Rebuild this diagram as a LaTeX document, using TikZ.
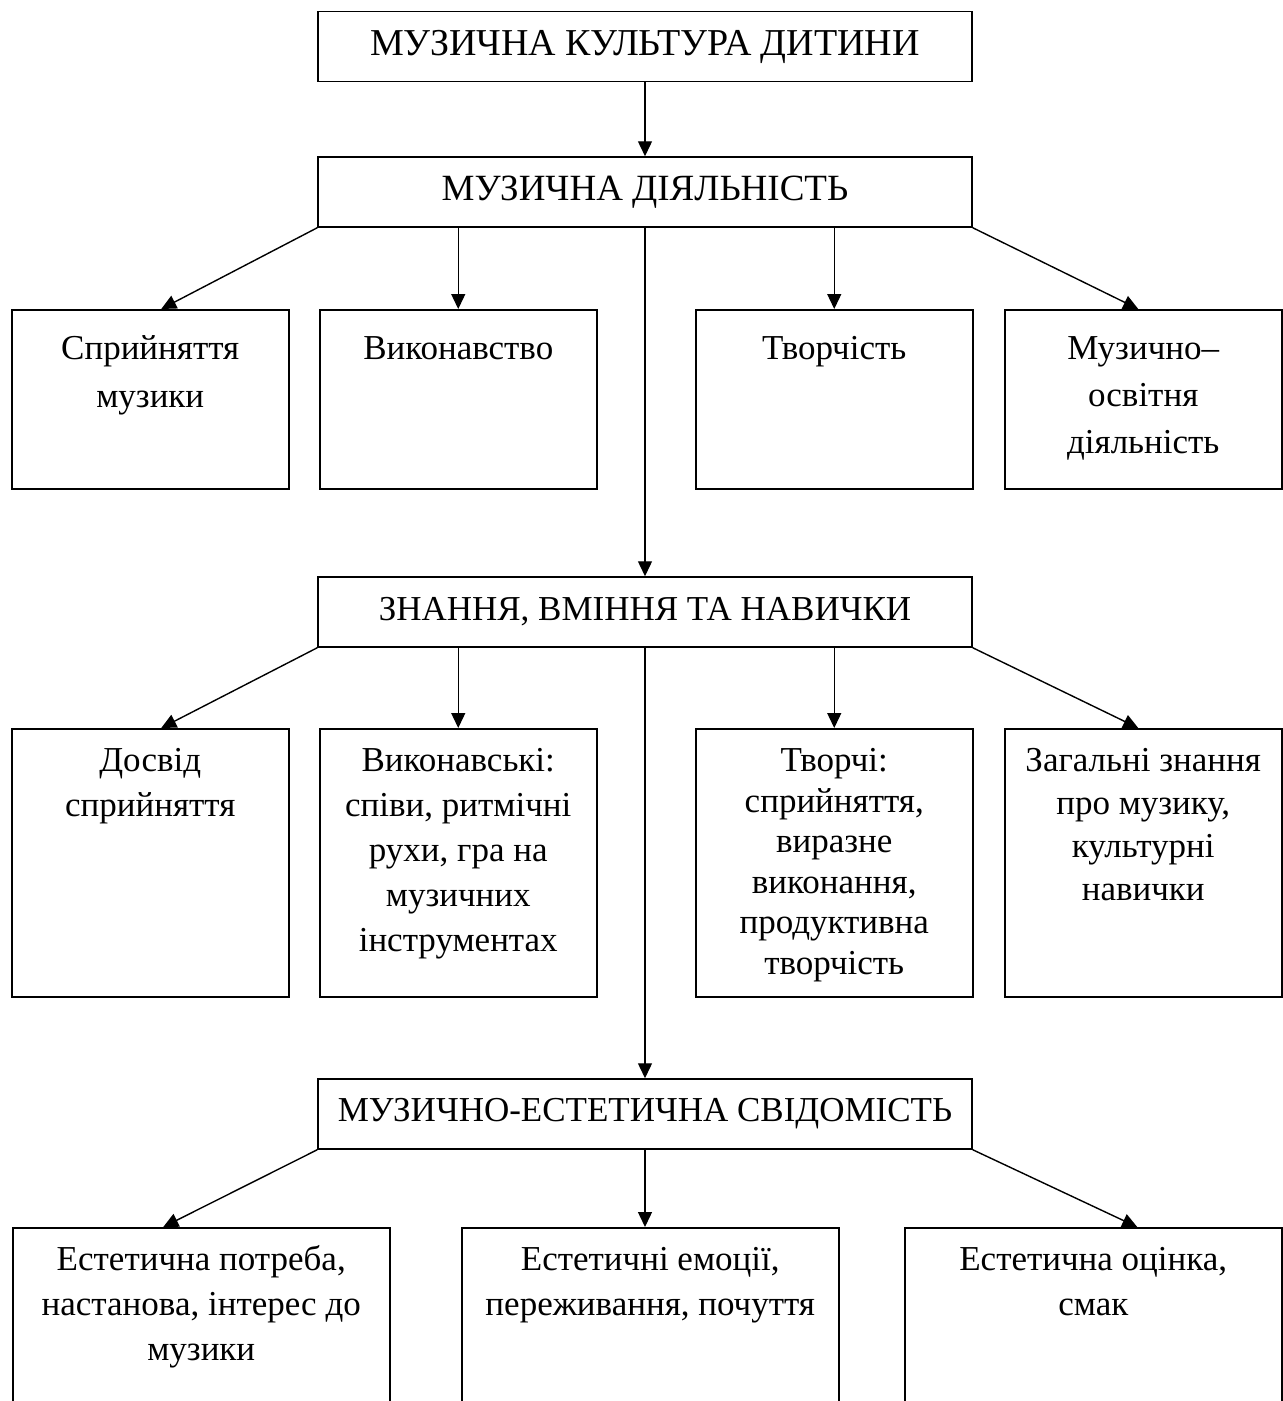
\documentclass[tikz,border=0pt]{standalone}
\usepackage{fontspec}
\setmainfont{Liberation Serif}
\usetikzlibrary{arrows.meta}

\begin{document}
\begin{tikzpicture}[x=1pt,y=-1pt,
		every node/.style={font=\fontsize{35}{45}\selectfont},
		head/.style={draw, line width=1.5pt, minimum width=654pt, minimum height=70pt, inner sep=0pt},
		cellA/.style={draw, line width=1.5pt, anchor=north west, inner sep=0pt, align=flush center, text width=277pt, text height=50pt, text depth=129pt},
		cellB/.style={draw, line width=1.5pt, anchor=north west, inner sep=0pt, align=flush center, text width=277pt, text height=43pt, text depth=225pt},
		cellC/.style={draw, line width=1.5pt, anchor=north west, inner sep=0pt, align=flush center, text width=377pt, text height=43pt, text depth=150pt},
		link/.style={line width=1.4pt, -{Triangle[length=15pt,width=14pt]}}]
		\useasboundingbox (0,0) rectangle (1283,1401);
		\clip (0,0) rectangle (1283,1401);
		% headings
		\node [head, font=\fontsize{38}{45}\selectfont] (kult) at (645,46.5) {МУЗИЧНА КУЛЬТУРА ДИТИНИ};
		\node [head, font=\fontsize{37}{45}\selectfont] (diyal) at (645,192) {МУЗИЧНА ДІЯЛЬНІСТЬ};
		\node [head] (znan) at (645,612) {ЗНАННЯ, ВМІННЯ ТА НАВИЧКИ};
		\node [head] (svid) at (645,1114) {МУЗИЧНО-ЕСТЕТИЧНА СВІДОМІСТЬ};
		% kinds of activity
		\node [cellA, font=\fontsize{35}{48}\selectfont] (spr) at (11,309) {Сприйняття\\музики};
		\node [cellA] (vyk) at (319,309) {Виконавство};
		\node [cellA] (tvor) at (695,309) {Творчість};
		\node [cellA, font=\fontsize{35}{47}\selectfont] (osv) at (1004,309) {Музично–\\освітня\\діяльність};
		% skills
		\node [cellB] (dosv) at (11,728) {Досвід\\сприйняття};
		\node [cellB] (vykn) at (319,728) {Виконавські:\\співи, ритмічні\\рухи, гра на\\музичних\\інструментах};
		\node [cellB, font=\fontsize{35}{40.5}\selectfont] (tvorch) at (695,728) {Творчі:\\сприйняття,\\виразне\\виконання,\\продуктивна\\творчість};
		\node [cellB, font=\fontsize{35}{43}\selectfont] (zag) at (1004,728) {Загальні знання\\про музику,\\культурні\\навички};
		% consciousness
		\node [cellC] (potr) at (12,1227) {Естетична потреба,\\настанова, інтерес до\\музики};
		\node [cellC] (emoc) at (461,1227) {Естетичні емоції,\\переживання, почуття};
		\node [cellC] (otsin) at (904,1227) {Естетична оцінка,\\смак};
		% arrows
		\draw [link] (kult) -- (diyal);
		\draw [link] (diyal.south west) -- ([xshift=11pt]spr.north);
		\draw [link] (diyal.south -| vyk.north) -- (vyk.north);
		\draw [link] (diyal.south -| tvor.north) -- (tvor.north);
		\draw [link] (diyal.south east) -- ([xshift=-5pt]osv.north);
		\draw [link] (diyal) -- (znan);
		\draw [link] (znan.south west) -- ([xshift=11pt]dosv.north);
		\draw [link] (znan.south -| vykn.north) -- (vykn.north);
		\draw [link] (znan.south -| tvorch.north) -- (tvorch.north);
		\draw [link] (znan.south east) -- ([xshift=-5pt]zag.north);
		\draw [link] (znan) -- (svid);
		\draw [link] (svid.south west) -- ([xshift=-38pt]potr.north);
		\draw [link] (svid) -- (svid.south |- emoc.north);
		\draw [link] (svid.south east) -- ([xshift=44pt]otsin.north);
	\end{tikzpicture}
\end{document}
